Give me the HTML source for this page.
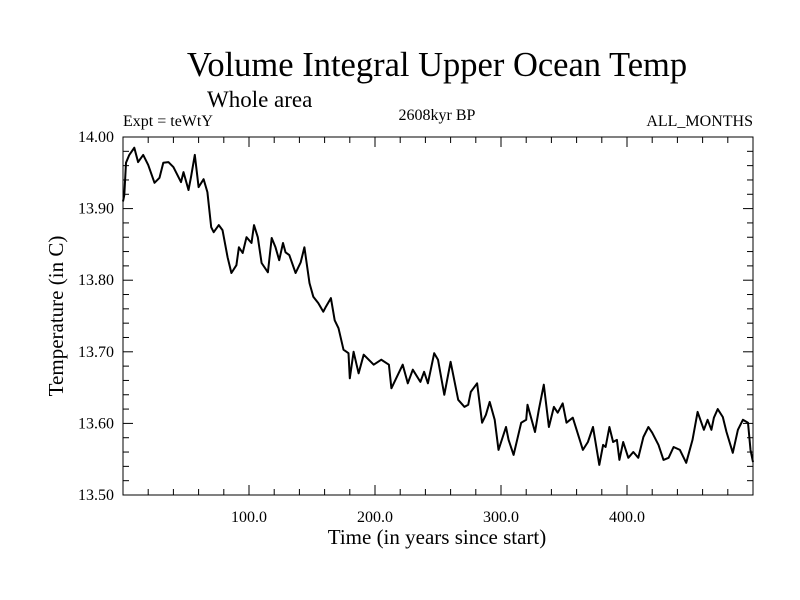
<!DOCTYPE html>
<html><head><meta charset="utf-8"><style>
body{margin:0;background:#fff}
svg{display:block;font-family:"Liberation Serif",serif}
</style></head><body>
<svg id="c" width="800" height="600">
<text x="437" y="76" font-size="34.5" text-anchor="middle">Volume Integral Upper Ocean Temp</text>
<text x="207" y="107" font-size="23">Whole area</text>
<text x="123" y="126" font-size="16">Expt = teWtY</text>
<text x="437" y="120" font-size="16" text-anchor="middle">2608kyr BP</text>
<text x="753" y="126" font-size="16" text-anchor="end">ALL_MONTHS</text>
<text x="437" y="544" font-size="21" text-anchor="middle">Time (in years since start)</text>
<text transform="translate(63,316) rotate(-90)" font-size="21" text-anchor="middle">Temperature (in C)</text>
<g id="ax"></g>
<rect x="123" y="137" width="630" height="358" fill="none" stroke="#000" stroke-width="1"/>
</svg>
<script>
const years=[0,1,2.4,5,9,12,16,20,25,29,32,36,40,46,48,52,54,57,60,64,67,70,72,76,79,83,86,90,92,95,98,102,104,107,110,115,118,121,124,127,129,132,137,141,144,148,151,155,159,161,165,168,171,175,179,180,183,187,191,199,205,211,213,222,226,230,236,239,242,247,250,255,260,266,271,274,276,281,285,288,291,295,298,304,306,310,316,320,321,327,330,334,338,342,345,349,352,357,365,369,373,378,381,383,386,389,392,394,397,401,405,409,413,417,420,425,429,433,437,442,447,452,456,461,464,467,469,472,476,479,484,488,492,496,498,500];
const temps=[13.91,13.919,13.964,13.975,13.985,13.965,13.975,13.961,13.936,13.943,13.964,13.965,13.958,13.937,13.951,13.926,13.944,13.975,13.930,13.941,13.923,13.874,13.867,13.877,13.870,13.832,13.810,13.821,13.846,13.838,13.860,13.852,13.877,13.860,13.824,13.811,13.859,13.846,13.828,13.852,13.839,13.835,13.810,13.825,13.846,13.796,13.777,13.768,13.756,13.763,13.775,13.744,13.733,13.703,13.698,13.663,13.700,13.670,13.696,13.682,13.689,13.682,13.649,13.682,13.656,13.675,13.658,13.672,13.656,13.698,13.689,13.640,13.686,13.633,13.623,13.626,13.644,13.656,13.601,13.612,13.630,13.605,13.563,13.595,13.577,13.556,13.601,13.605,13.626,13.588,13.619,13.654,13.595,13.623,13.615,13.628,13.601,13.608,13.563,13.574,13.595,13.542,13.570,13.567,13.595,13.574,13.577,13.549,13.574,13.552,13.560,13.552,13.581,13.595,13.587,13.570,13.549,13.552,13.567,13.563,13.545,13.577,13.616,13.591,13.605,13.591,13.608,13.620,13.609,13.588,13.559,13.591,13.605,13.601,13.563,13.546];
const xTicks=[100,200,300,400];
const xTickLabels=["100.0","200.0","300.0","400.0"];
const yTicks=[13.5,13.6,13.7,13.8,13.9,14.0];
const yTickLabels=["13.50","13.60","13.70","13.80","13.90","14.00"];
const X0=123,X1=753,Y0=495,Y1=137,xmin=0,xmax=500,ymin=13.5,ymax=14.0;
const sx=v=>X0+(v-xmin)/(xmax-xmin)*(X1-X0);
const sy=v=>Y0-(v-ymin)/(ymax-ymin)*(Y0-Y1);
const NS="http://www.w3.org/2000/svg";
const ax=document.getElementById('ax');
function mk(t,a){const e=document.createElementNS(NS,t);for(const k in a)e.setAttribute(k,a[k]);return e;}
for(let v=20;v<500;v+=20){const x=sx(v);const maj=v%100===0;const L=maj?10:6;
 const t1=mk('line',{x1:x,x2:x,y1:Y0,y2:Y0-L,stroke:'#000'});
 
 ax.appendChild(t1);
 const t2=mk('line',{x1:x,x2:x,y1:Y1,y2:Y1+L,stroke:'#000'});
 
 ax.appendChild(t2);}
xTicks.forEach((v,i)=>{const t=mk('text',{x:sx(v),y:522,'font-size':16,'text-anchor':'middle'});t.textContent=xTickLabels[i];
 
 ax.appendChild(t);});
for(let k=1;k<25;k++){const v=13.5+k*0.02;const y=sy(v);const maj=k%5===0;const L=maj?10:6;
 const t1=mk('line',{x1:X0,x2:X0+L,y1:y,y2:y,stroke:'#000'});
 
 ax.appendChild(t1);
 const t2=mk('line',{x1:X1,x2:X1-L,y1:y,y2:y,stroke:'#000'});
 
 ax.appendChild(t2);}
yTicks.forEach((v,i)=>{const t=mk('text',{x:114,y:sy(v)+5,'font-size':16,'text-anchor':'end'});t.textContent=yTickLabels[i];
 
 ax.appendChild(t);});
const d=years.map((v,i)=>(i?'L':'M')+sx(v).toFixed(1)+','+sy(temps[i]).toFixed(1)).join('');
const p=mk('path',{d:d,fill:'none',stroke:'#000','stroke-width':2,'stroke-linejoin':'round'});


ax.appendChild(p);
</script>
</body></html>
